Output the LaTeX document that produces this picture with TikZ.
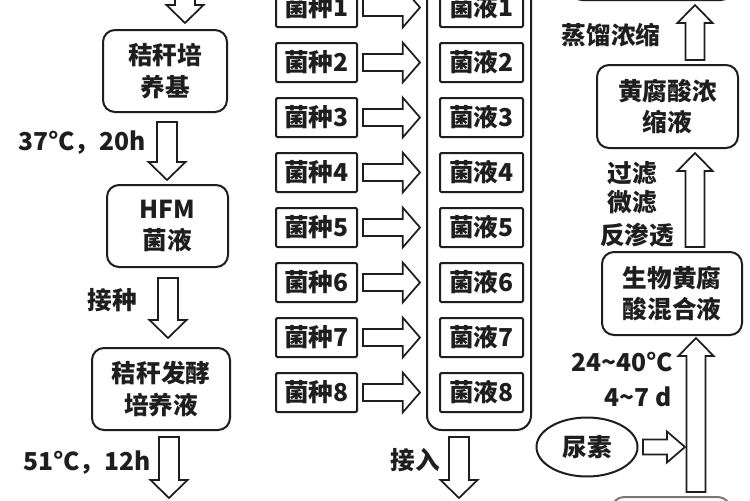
\documentclass[tikz,border=0pt]{standalone}
\usepackage{fontspec}
\setmainfont{Noto Sans CJK SC}
\usetikzlibrary{calc,shapes.geometric}
\definecolor{ink}{HTML}{1E1E1E}
\tikzset{
  txt/.style={text=ink, font=\bfseries\fontsize{18.5}{23.5}\selectfont},
  box/.style={txt, draw=ink, line width=1.5pt, rounded corners=9pt, align=center, inner sep=0pt, minimum height=61.5pt},
  sq/.style={txt, draw=ink, line width=1.5pt, rounded corners=1pt, inner sep=0pt, minimum height=29.25pt},
  lbl/.style={txt, inner sep=0pt},
  ba/.style={draw=ink, line width=1.3pt, fill=white, line join=miter},
  bdown/.style={ba, to path={let \p1=(\tikztostart),\p2=(\tikztotarget) in
    (\x1-7.5pt,\y1) -- (\x1-7.5pt,\y2+13.5pt) -- (\x1-13.9pt,\y2+13.5pt) -- (\x1,\y2)
    -- (\x1+13.9pt,\y2+13.5pt) -- (\x1+7.5pt,\y2+13.5pt) -- (\x1+7.5pt,\y1) -- cycle}},
  bup/.style={ba, to path={let \p1=(\tikztostart),\p2=(\tikztotarget) in
    (\x1-7.2pt,\y1) -- (\x1-7.2pt,\y2-13.5pt) -- (\x1-13.2pt,\y2-13.5pt) -- (\x1,\y2)
    -- (\x1+13.2pt,\y2-13.5pt) -- (\x1+7.2pt,\y2-13.5pt) -- (\x1+7.2pt,\y1) -- cycle}},
  bright/.style={ba, to path={let \p1=(\tikztostart),\p2=(\tikztotarget) in
    (\x1,\y1-6.4pt) -- (\x2-13pt,\y1-6.4pt) -- (\x2-13pt,\y1-15pt) -- (\x2,\y1)
    -- (\x2-13pt,\y1+15pt) -- (\x2-13pt,\y1+6.4pt) -- (\x1,\y1+6.4pt) -- cycle}},
  brightsm/.style={ba, to path={let \p1=(\tikztostart),\p2=(\tikztotarget) in
    (\x1,\y1-5.6pt) -- (\x2-13.5pt,\y1-5.6pt) -- (\x2-13.5pt,\y1-11.6pt) -- (\x2,\y1)
    -- (\x2-13.5pt,\y1+11.6pt) -- (\x2-13.5pt,\y1+5.6pt) -- (\x1,\y1+5.6pt) -- cycle}},
}
\begin{document}
\begin{tikzpicture}[x=0.75pt,y=-0.75pt]
\useasboundingbox (0,0) rectangle (750,500);
\clip (0,0) rectangle (750,500);
\fill[white] (0,0) rectangle (750,500);

% ---------- left column ----------
\node[box, minimum width=93pt] (b1) at (165,71) {秸秆培\\养基};
\node[box, minimum width=90.75pt] (b2) at (167.5,226) {HFM\\菌液};
\node[box, minimum width=103.5pt] (b3) at (161,389) {秸秆发酵\\培养液};

\coordinate (a1s) at (185,-30); \coordinate (a1e) at (185,23);
\coordinate (a2s) at (167,122); \coordinate (a2e) at (167,180);
\coordinate (a3s) at (168,278); \coordinate (a3e) at (168,338);
\coordinate (a4s) at (169,437); \coordinate (a4e) at (169,498);
\draw[bdown] (a1s) to (a1e);
\draw[bdown] (a2s) to (a2e);
\draw[bdown] (a3s) to (a3e);
\draw[bdown] (a4s) to (a4e);

\node[lbl] (l1) at (82,143) {37°C，20h};
\node[lbl] (l2) at (112,300) {接种};
\node[lbl] (l3) at (87,463) {51°C，12h};

% ---------- middle column ----------
\draw[draw=ink, line width=1.5pt, rounded corners=11pt] (427,-40) rectangle (531,430);
\foreach \k in {1,...,8}{
  \pgfmathsetmacro\yy{7.5+55*(\k-1)}
  \node[sq, minimum width=60.75pt] (z\k) at (316.5,\yy) {菌种\k};
  \node[sq, minimum width=62.25pt] (y\k) at (481.5,\yy) {菌液\k};
  \coordinate (rs\k) at (363,\yy);
  \coordinate (re\k) at (420,\yy);
  \draw[bright] (rs\k) to (re\k);
}
\coordinate (js) at (459,437); \coordinate (je) at (459,498);
\draw[bdown] (js) to (je);
\node[lbl] (l4) at (415,460) {接入};

% ---------- right column ----------
\draw[draw=ink, line width=1.5pt, rounded corners=9pt] (570,-80) rectangle (733,0);
\coordinate (u1s) at (695,60); \coordinate (u1e) at (695,5);
\draw[bup] (u1s) to (u1e);
\node[lbl] (l5) at (611,35) {蒸馏浓缩};

\node[box, minimum width=105.75pt, minimum height=62.25pt] (r1) at (667.5,106.5) {黄腐酸浓\\缩液};
\coordinate (u2s) at (695,247); \coordinate (u2e) at (695,153);
\draw[bup] (u2s) to (u2e);
\node[lbl] (l6) at (632,173) {过滤};
\node[lbl] (l7) at (632,202) {微滤};
\node[lbl] (l8) at (637,235) {反渗透};

\node[box, minimum width=105pt, minimum height=62.25pt] (r2) at (672,293.5) {生物黄腐\\酸混合液};
\coordinate (u3s) at (696,492); \coordinate (u3e) at (696,338);
\draw[bup] (u3s) to (u3e);
\node[lbl] (l9) at (622,362) {24\textasciitilde40°C};
\node[lbl] (l10) at (638,397) {4\textasciitilde7 d};

\node[txt, draw=ink, line width=1.5pt, ellipse, inner sep=0pt, minimum width=75.75pt, minimum height=44.25pt] (e1) at (587,447) {尿素};
\coordinate (es) at (643,447); \coordinate (ee) at (685,447);
\draw[brightsm] (es) to (ee);

\draw[draw=ink!60, line width=1.5pt, rounded corners=9pt] (612,497) rectangle (730,560);
\end{tikzpicture}
\end{document}
